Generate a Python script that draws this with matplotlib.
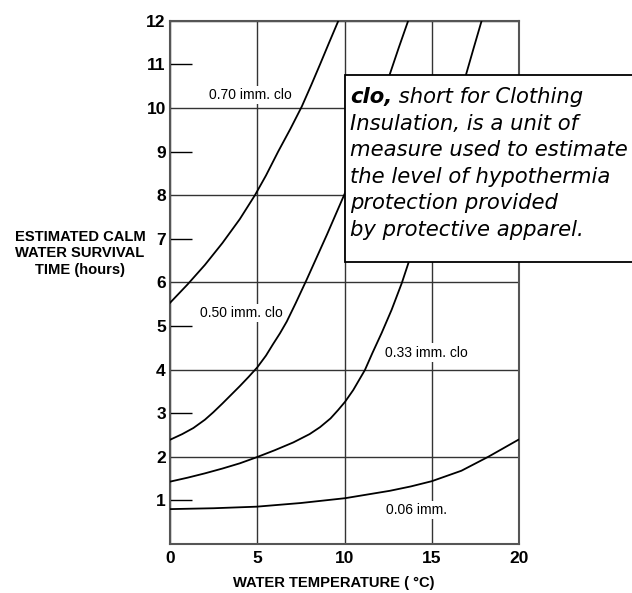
import matplotlib
matplotlib.use('Agg')
import matplotlib.pyplot as plt
from matplotlib.patches import Rectangle

# water temperature (C) vs estimated survival time (hours)
x_070 = [0, 1.0, 2.0, 3.0, 4.0, 4.87, 5.5, 6.2, 6.9, 7.55, 8.1, 8.6, 9.1, 9.65]
y_070 = [5.53, 5.95, 6.40, 6.90, 7.45, 8.0, 8.45, 9.0, 9.52, 10.03, 10.53, 11.0, 11.48, 12.0]

x_050 = [0, 0.7, 1.34, 2.0, 2.48, 3.0, 3.5, 4.0, 4.5, 5.0, 5.5, 5.9, 6.3, 6.69, 7.2,
         7.83, 9.0, 10.03, 11.0, 12.0, 12.56, 13.1, 13.65]
y_050 = [2.39, 2.52, 2.66, 2.85, 3.02, 3.22, 3.42, 3.62, 3.83, 4.05, 4.32, 4.58, 4.83, 5.1, 5.52,
         6.06, 7.1, 8.05, 9.05, 10.1, 10.73, 11.37, 12.0]

x_033 = [0, 1.0, 2.0, 3.0, 4.0, 4.97, 6.0, 7.07, 8.0, 8.6, 9.2, 9.63, 10.03, 10.5, 11.17,
         11.6, 12.13, 12.7, 13.28, 13.66, 14.5, 15.5, 16.5, 16.94, 17.4, 17.86]
y_033 = [1.43, 1.52, 1.62, 1.73, 1.85, 1.99, 2.15, 2.33, 2.52, 2.68, 2.88, 3.07, 3.26, 3.53, 3.99,
         4.38, 4.84, 5.37, 5.98, 6.44, 7.5, 8.8, 10.15, 10.73, 11.37, 12.0]

x_006 = [0, 2.5, 4.97, 7.5, 10.03, 12.6, 13.8, 15.0, 16.7, 18.24, 19.96]
y_006 = [0.80, 0.82, 0.856, 0.94, 1.05, 1.22, 1.32, 1.44, 1.68, 2.0, 2.39]

curves = [(x_070, y_070), (x_050, y_050), (x_033, y_033), (x_006, y_006)]
curve_labels = ['0.70 imm. clo', '0.50 imm. clo', '0.33 imm. clo', '0.06 imm.']
label_pos = [(4.58, 10.3), (4.1, 5.29), (14.7, 4.39), (14.1, 0.78)]

x_ticks = [0, 5, 10, 15, 20]
y_odd = [1, 3, 5, 7, 9, 11]
y_even = [2, 4, 6, 8, 10, 12]

note_lines = ['Insulation, is a unit of',
              'measure used to estimate',
              'the level of hypothermia',
              'protection provided',
              'by protective apparel.']

W, H = 632, 593
fig = plt.figure(figsize=(W / 100, H / 100), dpi=100)
ax = fig.add_axes([170 / W, 1 - 544 / H, 349 / W, 523.3 / H])

lab_font = 'Liberation Sans'

for xs, ys in curves:
    ax.plot(xs, ys, color='black', lw=1.3, zorder=3)

for txt, (lx, ly) in zip(curve_labels, label_pos):
    ax.text(lx, ly, txt, ha='center', va='center', fontsize=10, family=lab_font,
            bbox=dict(facecolor='white', edgecolor='none', pad=1.5), zorder=4)

ax.set_xlim(0, 20)
ax.set_ylim(0, 12)

ax.set_xticks(x_ticks)
ax.set_yticks(y_odd)
ax.set_yticks(y_even, minor=True)
ax.set_yticklabels([str(v) for v in y_even], minor=True)

ax.tick_params(axis='y', which='major', direction='in', length=16, width=1.0,
               color='black', pad=3)
ax.tick_params(axis='y', which='minor', length=0, pad=3)
ax.tick_params(axis='x', length=0, pad=5)
for lbl in ax.get_xticklabels() + ax.get_yticklabels() + ax.get_yticklabels(minor=True):
    lbl.set_fontweight('bold')
    lbl.set_fontsize(12.5)
    lbl.set_family(lab_font)

ax.grid(True, axis='x', which='major', color='#333333', lw=1.0)
ax.grid(True, axis='y', which='minor', color='#333333', lw=1.0)
ax.set_axisbelow(True)
for sp in ax.spines.values():
    sp.set_color('#555555')
    sp.set_linewidth(1.5)

fig.text(80 / W, 1 - 253.5 / H, 'ESTIMATED CALM\nWATER SURVIVAL\nTIME (hours)',
         ha='center', va='center', fontsize=10.6, fontweight='bold', family=lab_font,
         linespacing=1.22)
fig.text(334 / W, 1 - 583 / H, 'WATER TEMPERATURE ( °C)', ha='center', va='center',
         fontsize=10.6, fontweight='bold', family=lab_font)

# explanatory box, partly over the plot
box = Rectangle((345 / W, 1 - 262 / H), 0.47, 187 / H, transform=fig.transFigure,
                facecolor='white', edgecolor='black', lw=1.3, zorder=5)
fig.patches.append(box)

note_size = 15.2
x0 = 350 / W
t1 = fig.text(x0, 1 - 103.5 / H, 'clo,', fontsize=note_size, style='italic',
              fontweight='bold', family='DejaVu Sans', zorder=6)
renderer = fig.canvas.get_renderer()
bb = t1.get_window_extent(renderer=renderer)
fig.text(bb.x1 / W, 1 - 103.5 / H, ' short for Clothing', fontsize=note_size,
         style='italic', family='DejaVu Sans', zorder=6)
for i, line in enumerate(note_lines):
    fig.text(x0, 1 - (103.5 + 26.4 * (i + 1)) / H, line, fontsize=note_size,
             style='italic', family='DejaVu Sans', zorder=6)

fig.savefig('out.png', dpi=100)
